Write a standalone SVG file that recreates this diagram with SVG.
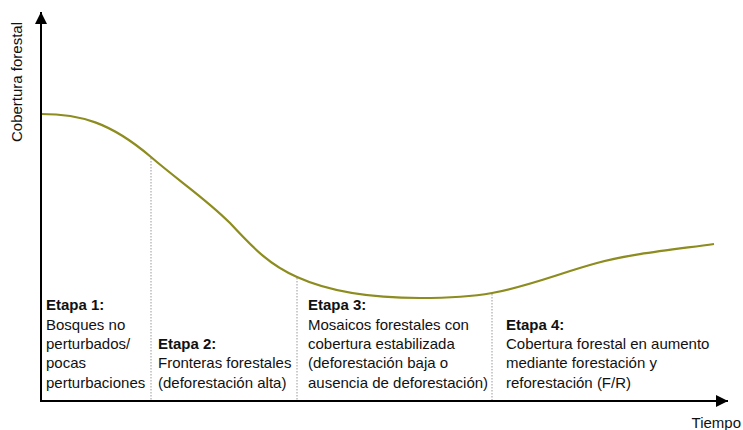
<svg xmlns="http://www.w3.org/2000/svg" width="743" height="430" viewBox="0 0 743 430">
<style>
text{font-family:"Liberation Sans",Arial,sans-serif;font-size:15px;fill:#111}
.b{font-weight:bold}
.dot{stroke:#999;stroke-width:1;stroke-dasharray:1.5,1.5;fill:none}
.axis{stroke:#000;stroke-width:2;fill:none}
</style>
<defs>
<marker id="ah" viewBox="0 0 10 10" refX="10" refY="5" markerWidth="12" markerHeight="12" markerUnits="userSpaceOnUse" orient="auto"><path d="M0,0 L10,5 L0,10 z" fill="#000"/></marker>
</defs>
<g id="connectors">
<line class="dot" x1="151" y1="158" x2="151" y2="400"/>
<line class="dot" x1="297" y1="278" x2="297" y2="400"/>
<line class="dot" x1="492" y1="294" x2="492" y2="400"/>
<path id="curve" d="M41,114 C80,114 110,122 151,157 C180,182 205,198 230,223 C255,250 270,265 297,277 C330,292 370,298 420,298 C450,298 470,297 492,293 C530,286 560,273 597,263 C630,254 670,250 714,244" fill="none" stroke="#8c8c1f" stroke-width="2.2"/>
<line class="axis" x1="41" y1="402" x2="41" y2="12" marker-end="url(#ah)"/>
<line class="axis" x1="40" y1="401" x2="728" y2="401" marker-end="url(#ah)"/>
</g>
<g id="ylabel"><text transform="translate(22,82) rotate(-90)" text-anchor="middle" font-size="14.5">Cobertura forestal</text></g>
<g id="xlabel"><text x="741" y="428" text-anchor="end" font-size="14.5">Tiempo</text></g>
<g id="etapa1">
<text x="46" y="310" class="b">Etapa 1:</text>
<text x="46" y="330">Bosques no</text>
<text x="46" y="349">perturbados/</text>
<text x="46" y="368">pocas</text>
<text x="46" y="388">perturbaciones</text>
</g>
<g id="etapa2">
<text x="158" y="349" class="b">Etapa 2:</text>
<text x="158" y="368">Fronteras forestales</text>
<text x="158" y="388">(deforestación alta)</text>
</g>
<g id="etapa3">
<text x="308" y="310" class="b">Etapa 3:</text>
<text x="308" y="330">Mosaicos forestales con</text>
<text x="308" y="349">cobertura estabilizada</text>
<text x="308" y="368">(deforestación baja o</text>
<text x="308" y="388">ausencia de deforestación)</text>
</g>
<g id="etapa4">
<text x="506" y="330" class="b">Etapa 4:</text>
<text x="506" y="349">Cobertura forestal en aumento</text>
<text x="506" y="368">mediante forestación y</text>
<text x="506" y="388">reforestación (F/R)</text>
</g>
</svg>
